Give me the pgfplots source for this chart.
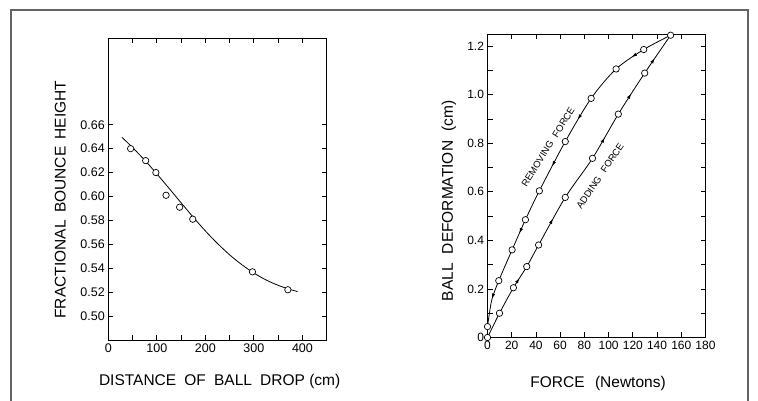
\documentclass[border=0pt]{standalone}
\usepackage{fontspec}
\setmainfont{Liberation Sans}
\usepackage{pgfplots}
\pgfplotsset{compat=1.18}
\usetikzlibrary{decorations.markings,arrows.meta}
\definecolor{framegray}{RGB}{100,100,100}
\begin{document}
\begin{tikzpicture}
\useasboundingbox (0pt,0pt) rectangle (758pt,401pt);
\pgfplotsset{
  every axis/.append style={
    scale only axis,
    axis line style={line width=0.8pt},
    tick style={line width=0.8pt, black},
    tick align=inside,
    major tick length=5pt,
    /pgf/number format/assume math mode=true,
    label style={font=\fontsize{15.5}{17}\selectfont},
  },
  circ/.style={only marks, mark=*, mark size=3.2pt, mark options={fill=white, draw=black, line width=0.7pt}},
}
% ---------------- left panel ----------------
\begin{axis}[
  at={(108.3pt,61pt)}, anchor=south west,
  width=218.4pt, height=302pt,
  xmin=0, xmax=450, ymin=0.48, ymax=0.7325,
  tick label style={font=\fontsize{12.5}{13}\selectfont},
  xtick={0,50,100,150,200,250,300,350,400},
  xticklabels={0,,100,,200,,300,,400},
  ytick={0.50,0.52,0.54,0.56,0.58,0.60,0.62,0.64,0.66},
  yticklabel style={/pgf/number format/.cd, fixed, fixed zerofill, precision=2},
  xlabel={DISTANCE\hspace{0.25em} OF\hspace{0.25em} BALL\hspace{0.25em} DROP (cm)},
  ylabel={FRACTIONAL\hspace{0.2em} BOUNCE\hspace{0.2em} HEIGHT},
  x label style={at={(axis description cs:0.51,-0.139)}, anchor=center},
  y label style={at={(axis description cs:-0.22,0.465)}, anchor=center},
]
\addplot[black, line width=0.8pt, smooth] coordinates {
 (28,0.6495)(50,0.6409)(75,0.6304)(100,0.6189)(125,0.6069)(150,0.5947)(175,0.5827)
 (200,0.5712)(225,0.5607)(250,0.5512)(275,0.5430)(300,0.5360)(325,0.5302)(350,0.5257)
 (375,0.5222)(390,0.5205)};
\addplot[circ] coordinates {
 (46,0.640)(77,0.630)(98,0.620)(119,0.601)(147,0.591)(174,0.581)(297,0.537)(370,0.522)};
\end{axis}
% ---------------- right panel ----------------
\begin{axis}[
  at={(487.5pt,63.5pt)}, anchor=south west,
  width=218pt, height=303.5pt,
  xmin=0, xmax=180, ymin=0, ymax=1.25,
  tick label style={font=\fontsize{12}{13}\selectfont},
  xtick={0,20,40,60,80,100,120,140,160,180},
  ytick={0,0.1,0.2,0.3,0.4,0.5,0.6,0.7,0.8,0.9,1.0,1.1,1.2},
  yticklabels={0,,0.2,,0.4,,0.6,,0.8,,1.0,,1.2},
  xlabel={FORCE\hspace{0.4em} (Newtons)},
  ylabel={BALL\hspace{0.3em} DEFORMATION\hspace{0.3em} (cm)},
  x label style={at={(axis description cs:0.507,-0.150)}, anchor=center},
  y label style={at={(axis description cs:-0.177,0.45)}, anchor=center},
]
% removing force (drawn from top down, arrows point down-left)
\addplot[black, line width=0.8pt, smooth, postaction={decorate}, decoration={markings,
  mark=at position 0.125 with {\arrow{Latex[length=5pt,width=3.5pt]}},
  mark=at position 0.36 with {\arrow{Latex[length=5pt,width=3.5pt]}},
  mark=at position 0.51 with {\arrow{Latex[length=5pt,width=3.5pt]}},
  mark=at position 0.72 with {\arrow{Latex[length=5pt,width=3.5pt]}},
  mark=at position 0.92 with {\arrow{Latex[length=5pt,width=3.5pt]}}}] coordinates {
 (151.2,1.245)(129,1.186)(106.2,1.106)(85.6,0.985)(64.2,0.807)(42.8,0.604)
 (31.3,0.485)(20.3,0.361)(9.3,0.234)(3.8,0.16)(1.6,0.10)(0,0.045)};
% adding force (drawn from origin up, arrows point up-right)
\addplot[black, line width=0.8pt, smooth, postaction={decorate}, decoration={markings,
  mark=at position 0.19 with {\arrow{Latex[length=5pt,width=3.5pt]}},
  mark=at position 0.383 with {\arrow{Latex[length=5pt,width=3.5pt]}},
  mark=at position 0.655 with {\arrow{Latex[length=5pt,width=3.5pt]}},
  mark=at position 0.80 with {\arrow{Latex[length=5pt,width=3.5pt]}},
  mark=at position 0.92 with {\arrow{Latex[length=5pt,width=3.5pt]}}}] coordinates {
 (0,0)(9.9,0.1)(21.4,0.205)(32.4,0.292)(42.2,0.381)(64.2,0.577)(86.7,0.738)
 (108,0.92)(129.8,1.089)(151.2,1.245)};
\addplot[circ] coordinates {
 (0,0.045)(9.3,0.234)(20.3,0.361)(31.3,0.485)(42.8,0.604)(64.2,0.807)(85.6,0.985)
 (106.2,1.106)(129,1.186)(151.2,1.245)};
\addplot[circ] coordinates {
 (0,0)(9.9,0.1)(21.4,0.205)(32.4,0.292)(42.2,0.381)(64.2,0.577)(86.7,0.738)
 (108,0.92)(129.8,1.089)};
\node[rotate=58, font=\fontsize{9.5}{10}\selectfont] at (axis cs:50,0.785) {REMOVING\hspace{0.4em} FORCE};
\node[rotate=56, font=\fontsize{9.5}{10}\selectfont] at (axis cs:93,0.665) {ADDING\hspace{0.4em} FORCE};
\end{axis}
% frame
\draw[line width=2pt, framegray] (11pt,0pt) -- (11pt,390.7pt) -- (748pt,390.7pt) -- (748pt,0pt);
\end{tikzpicture}
\end{document}
